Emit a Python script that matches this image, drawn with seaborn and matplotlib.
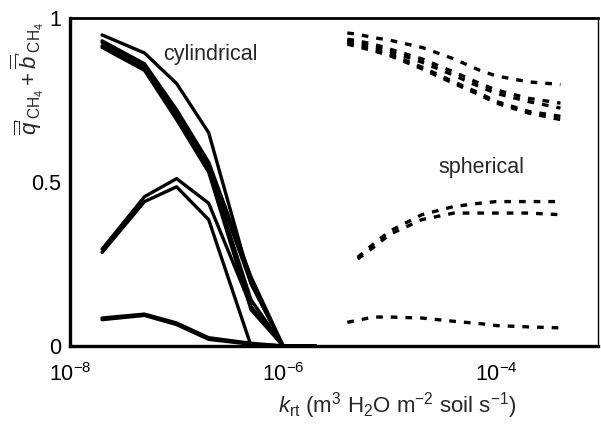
import numpy as np
import pandas as pd
import seaborn as sns
import matplotlib.pyplot as plt
from matplotlib.ticker import FixedLocator, NullLocator, LogFormatterMathtext

# root conductance values (m3 H2O m-2 soil s-1)
k_cyl = [2e-8, 5e-8, 1e-7, 2e-7, 5e-7, 1e-6, 2e-6]
k_sph = [4e-6, 5e-6, 7e-6, 1e-5, 2e-5, 4e-5, 7e-5, 1e-4, 2e-4, 4e-4]

# cylindrical geometry (solid lines)
cyl_top = [0.948, 0.893, 0.80, 0.65, 0.19, 0.0, 0.0]
cyl_b1 = [0.930, 0.860, 0.72, 0.56, 0.21, 0.0, 0.0]
cyl_b2 = [0.925, 0.855, 0.71, 0.55, 0.19, 0.0, 0.0]
cyl_b3 = [0.915, 0.845, 0.70, 0.54, 0.14, 0.0, 0.0]
cyl_b4 = [0.910, 0.840, 0.69, 0.53, 0.11, 0.0, 0.0]
cyl_m1 = [0.295, 0.455, 0.51, 0.435, 0.12, 0.0, 0.0]
cyl_m2 = [0.285, 0.440, 0.485, 0.385, 0.0, 0.0, 0.0]
cyl_l1 = [0.085, 0.097, 0.070, 0.025, 0.008, 0.0, 0.0]
cyl_l2 = [0.080, 0.093, 0.065, 0.020, 0.005, 0.0, 0.0]

# spherical geometry (dashed lines)
sph_top = [0.954, 0.950, 0.940, 0.932, 0.910, 0.875, 0.840, 0.823, 0.805, 0.797]
sph_a = [0.935, 0.930, 0.920, 0.905, 0.875, 0.835, 0.800, 0.780, 0.755, 0.740]
sph_b = [0.930, 0.925, 0.913, 0.898, 0.865, 0.825, 0.790, 0.770, 0.745, 0.725]
sph_c = [0.925, 0.918, 0.905, 0.890, 0.850, 0.805, 0.770, 0.745, 0.715, 0.700]
sph_d = [0.920, 0.912, 0.900, 0.885, 0.845, 0.800, 0.765, 0.740, 0.710, 0.690]
sph_e = [np.nan, 0.270, 0.310, 0.350, 0.400, 0.425, 0.435, 0.440, 0.440, 0.440]
sph_f = [np.nan, 0.265, 0.300, 0.340, 0.385, 0.405, 0.405, 0.405, 0.405, 0.400]
sph_g = [0.072, 0.078, 0.088, 0.088, 0.085, 0.075, 0.068, 0.062, 0.058, 0.055]

cyl = {'c1': cyl_top, 'c2': cyl_b1, 'c3': cyl_b2, 'c4': cyl_b3, 'c5': cyl_b4,
       'c6': cyl_m1, 'c7': cyl_m2, 'c8': cyl_l1, 'c9': cyl_l2}
sph = {'s1': sph_top, 's2': sph_a, 's3': sph_b, 's4': sph_c, 's5': sph_d,
       's6': sph_e, 's7': sph_f, 's8': sph_g}

rows = []
for name, vals in cyl.items():
    for k, v in zip(k_cyl, vals):
        rows.append([k, v, name, 'cylindrical'])
for name, vals in sph.items():
    for k, v in zip(k_sph, vals):
        rows.append([k, v, name, 'spherical'])
df = pd.DataFrame(rows, columns=['k', 'q', 'run', 'shape']).dropna()

sns.set_style('white')
plt.rcParams['font.family'] = ['Liberation Sans', 'DejaVu Sans']
plt.rcParams['mathtext.fontset'] = 'custom'
plt.rcParams['mathtext.rm'] = 'Liberation Sans'
plt.rcParams['mathtext.it'] = 'Liberation Sans:italic'
plt.rcParams['mathtext.bf'] = 'Liberation Sans:bold'

fig = plt.figure(figsize=(6.01, 4.26), dpi=100)
ax = fig.add_axes([0.1165, 0.188, 0.8785, 0.770])

sns.lineplot(data=df, x='k', y='q', units='run', estimator=None,
             style='shape', dashes={'cylindrical': '', 'spherical': (2.0, 2.4)},
             color='black', linewidth=2.4, legend=False, ax=ax)

ax.set_xscale('log')
ax.set_xlim(1e-8, 9e-4)
ax.set_ylim(0, 1)
ax.xaxis.set_major_locator(FixedLocator([1e-8, 1e-6, 1e-4]))
ax.xaxis.set_major_formatter(LogFormatterMathtext())
ax.xaxis.set_minor_locator(NullLocator())
ax.set_yticks([0, 0.5, 1])
ax.set_yticklabels(['0', '0.5', '1'])
ax.tick_params(axis='both', direction='inout', length=9, width=1.6,
               labelsize=15.5, color='black', labelcolor='black')
ax.tick_params(axis='x', pad=8)
ax.tick_params(axis='y', pad=2)

for side in ['left', 'bottom']:
    ax.spines[side].set_linewidth(2.4)
ax.spines['top'].set_linewidth(2.0)
ax.spines['right'].set_linewidth(1.0)
for s in ax.spines.values():
    s.set_color('black')

ax.set_xlabel(r'$k_{\rm rt}$ (m$^3$ H$_2$O m$^{-2}$ soil s$^{-1}$)', fontsize=16)
ax.xaxis.set_label_coords(0.62, -0.135)
ax.set_ylabel(r"$\overline{\overline{q}}'_{\rm CH_4} + \overline{\overline{b}}'_{\rm CH_4}$",
              fontsize=16)
ax.yaxis.set_label_coords(-0.045, 0.815)

ax.text(7.5e-8, 0.887, 'cylindrical', fontsize=15.5, ha='left', va='center')
ax.text(7.2e-5, 0.543, 'spherical', fontsize=15.5, ha='center', va='center')

fig.savefig('out.png', dpi=100)
